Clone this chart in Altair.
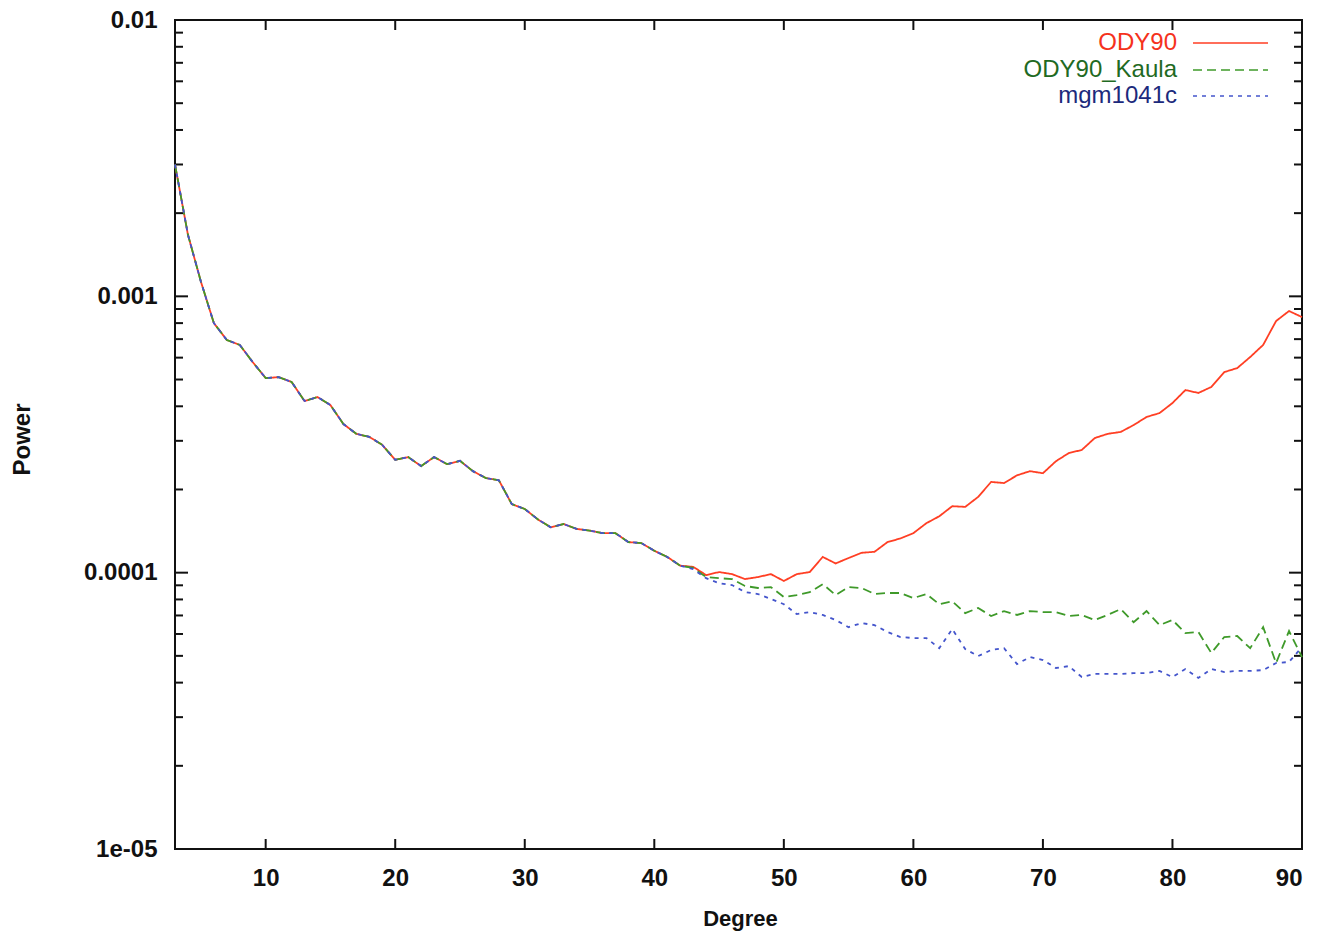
import altair as alt
import pandas as pd

# ---------------- data ----------------
degrees = list(range(3, 91))

# degrees 3..42: the three models coincide
shared_low_degree = [
    0.0030, 0.00167, 0.00113, 0.00080, 0.000695, 0.000667, 0.000578, 0.000506, 0.000510, 0.000490,
    0.000418, 0.000432, 0.000404, 0.000345, 0.000318, 0.000310, 0.000290, 0.000256, 0.000262, 0.000243,
    0.000262, 0.000247, 0.000254, 0.000233, 0.000220, 0.000216, 0.000177, 0.000170, 0.000156, 0.000146,
    0.000150, 0.000144, 0.000142, 0.000139, 0.000139, 0.000129, 0.000128, 0.000120, 0.000114, 0.000106,
]

# degrees 43..90
ody90_high = [
    0.000105, 0.0000980, 0.0001005, 0.0000988, 0.0000948, 0.0000964, 0.0000988, 0.0000933, 0.0000988, 0.0001005,
    0.000114, 0.000108, 0.000113, 0.000118, 0.000119, 0.000129, 0.000133, 0.000139, 0.000151, 0.000160,
    0.000174, 0.000173, 0.000188, 0.000213, 0.000211, 0.000225, 0.000233, 0.000229, 0.000253, 0.000271,
    0.000278, 0.000307, 0.000318, 0.000323, 0.000342, 0.000366, 0.000378, 0.000411, 0.000458, 0.000447,
    0.000470, 0.000532, 0.000550, 0.000603, 0.000667, 0.000814, 0.000885, 0.000841,
]
ody90_kaula_high = [
    0.000104, 0.0000964, 0.0000955, 0.0000948, 0.0000895, 0.0000880, 0.0000887, 0.0000816, 0.0000830, 0.0000850,
    0.0000909, 0.0000830, 0.0000887, 0.0000880, 0.0000837, 0.0000844, 0.0000844, 0.0000809, 0.0000837, 0.0000769,
    0.0000788, 0.0000714, 0.0000745, 0.0000697, 0.0000726, 0.0000703, 0.0000726, 0.0000720, 0.0000720, 0.0000697,
    0.0000703, 0.0000674, 0.0000703, 0.0000738, 0.0000662, 0.0000726, 0.0000646, 0.0000674, 0.0000604, 0.0000610,
    0.0000512, 0.0000585, 0.0000590, 0.0000533, 0.0000635, 0.0000471, 0.0000615, 0.0000495,
]
mgm1041c_high = [
    0.000103, 0.0000955, 0.0000916, 0.0000902, 0.0000851, 0.0000837, 0.0000803, 0.0000769, 0.0000708, 0.0000720,
    0.0000703, 0.0000674, 0.0000635, 0.0000657, 0.0000646, 0.0000610, 0.0000585, 0.0000580, 0.0000580, 0.0000533,
    0.0000625, 0.0000529, 0.0000499, 0.0000525, 0.0000533, 0.0000467, 0.0000495, 0.0000483, 0.0000452, 0.0000459,
    0.0000419, 0.0000430, 0.0000430, 0.0000430, 0.0000433, 0.0000433, 0.0000441, 0.0000419, 0.0000448, 0.0000416,
    0.0000448, 0.0000437, 0.0000441, 0.0000441, 0.0000444, 0.0000471, 0.0000475, 0.0000538,
]

ody90 = shared_low_degree + ody90_high
ody90_kaula = shared_low_degree + ody90_kaula_high
mgm1041c = shared_low_degree + mgm1041c_high

series_names = ["ODY90", "ODY90_Kaula", "mgm1041c"]
line_colors = ["#ff3f24", "#3f9a2a", "#4455cc"]
text_colors = ["#f5321c", "#1f6a23", "#1c2a7c"]
dashes = [[1, 0], [9, 5], [4, 5]]

x_tick_values = [10, 20, 30, 40, 50, 60, 70, 80, 90]
y_tick_values = [1e-5, 1e-4, 1e-3, 1e-2]
y_tick_labels = ["1e-05", "0.0001", "0.001", "0.01"]
y_minor_values = [m * d for d in [1e-5, 1e-4, 1e-3] for m in range(2, 10)]

# ---------------- layout ----------------
W, H = 1127, 829
PAD = {"left": 175, "top": 20, "right": 33, "bottom": 86}
FONT = "Liberation Sans"
INK = "#111111"

label_expr = ""
for v, lab in zip(y_tick_values[:-1], y_tick_labels[:-1]):
    label_expr += f"datum.value < {v * 3} ? '{lab}' : "
label_expr += f"'{y_tick_labels[-1]}'"

xscale = alt.Scale(type="linear", domain=[3, 90], nice=False, zero=False)
yscale = alt.Scale(type="log", domain=[1e-5, 1e-2], nice=False)

xaxis = alt.Axis(values=x_tick_values, format="d", title="Degree",
                 labelFont=FONT, labelFontSize=24, labelFontWeight="bold", labelColor=INK,
                 labelPadding=17, ticks=False, domain=False, grid=False,
                 titleFont=FONT, titleFontSize=22, titleFontWeight="bold", titleColor=INK,
                 titleX=565, titleY=69, titleBaseline="middle")
yaxis = alt.Axis(values=y_tick_values, labelExpr=label_expr, title="Power",
                 labelFont=FONT, labelFontSize=24, labelFontWeight="bold", labelColor=INK,
                 labelPadding=18, ticks=False, domain=False, grid=False,
                 titleFont=FONT, titleFontSize=24, titleFontWeight="bold", titleColor=INK,
                 titleX=-153, titleY=419, titleBaseline="middle", titleAngle=-90)

X = alt.X("degree:Q", scale=xscale, axis=xaxis)
Y = alt.Y("power:Q", scale=yscale, axis=yaxis)

layers = []

# inward tick marks (gnuplot style, mirrored on all four sides)
xt = pd.DataFrame({"degree": x_tick_values})
layers.append(alt.Chart(xt).mark_rule(color=INK, strokeWidth=2).encode(x=X, y=alt.value(H), y2=alt.value(H - 10)))
layers.append(alt.Chart(xt).mark_rule(color=INK, strokeWidth=2).encode(x=X, y=alt.value(0), y2=alt.value(10)))
ymaj = pd.DataFrame({"power": y_tick_values})
ymin = pd.DataFrame({"power": y_minor_values})
for df, ln in [(ymaj, 13), (ymin, 8)]:
    layers.append(alt.Chart(df).mark_rule(color=INK, strokeWidth=2).encode(y=Y, x=alt.value(0), x2=alt.value(ln)))
    layers.append(alt.Chart(df).mark_rule(color=INK, strokeWidth=2).encode(y=Y, x=alt.value(W), x2=alt.value(W - ln)))

# series lines
for name, vals, col, dash in zip(series_names, [ody90, ody90_kaula, mgm1041c], line_colors, dashes):
    df = pd.DataFrame({"degree": degrees, "power": vals})
    layers.append(alt.Chart(df).mark_line(color=col, strokeWidth=1.8, strokeDash=dash).encode(x=X, y=Y))

# key (top right, text then line sample)
legend_df = pd.DataFrame({"series": series_names})
row_y = [23, 50, 76]
for name, col, tcol, dash, ry in zip(series_names, line_colors, text_colors, dashes, row_y):
    base = alt.Chart(legend_df).transform_filter(alt.datum.series == name)
    layers.append(base.mark_text(align="right", baseline="middle", font=FONT, fontSize=24, color=tcol)
                  .encode(text="series:N", x=alt.value(1002), y=alt.value(ry)))
    layers.append(base.mark_rule(color=col, strokeWidth=1.6, strokeDash=dash)
                  .encode(x=alt.value(1018), x2=alt.value(1093), y=alt.value(ry)))

chart = (
    alt.layer(*layers)
    .properties(width=W, height=H, padding=PAD, autosize=alt.AutoSizeParams(type="none"),
                background="white")
    .configure_view(stroke=INK, strokeWidth=2, fill="white")
)

chart.save("out.html", embed_options={"renderer": "svg", "actions": False})
